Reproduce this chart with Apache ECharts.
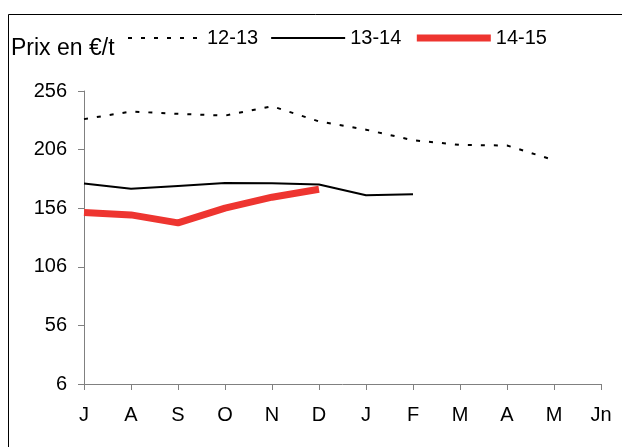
<!DOCTYPE html>
<html>
<head>
<meta charset="utf-8">
<script src="https://cdn.jsdelivr.net/npm/echarts@6/dist/echarts.min.js"></script>
<style>
  html, body { margin: 0; padding: 0; background: #fff; }
  #chart { width: 622px; height: 447px; }
</style>
</head>
<body>
<div id="chart"></div>
<script>
// Months of the marketing year, July to June
const months = ['J', 'A', 'S', 'O', 'N', 'D', 'J', 'F', 'M', 'A', 'M', 'Jn'];
// Price axis ticks (€/t)
const yMin = 6, yMax = 256, yStep = 50;
// Monthly prices per campaign
const s1213 = [232, 238.5, 236.5, 235, 243, 230, 223, 214, 210, 209.5, 197, null];
const s1314 = [177, 172.5, 175, 177.5, 177.3, 176.2, 167, 168, null, null, null, null];
const s1415 = [152.3, 150.3, 143.5, 156, 165.4, 172.2, null, null, null, null, null, null];

const font = '"Liberation Sans", Arial, sans-serif';
const red = '#ee3530';
const chart = echarts.init(document.getElementById('chart'), null, { renderer: 'canvas' });

chart.setOption({
  animation: false,
  backgroundColor: '#fff',
  textStyle: { fontFamily: font },
  legend: {
    top: 23,
    left: 122,
    itemWidth: 74,
    itemHeight: 8,
    itemGap: 12,
    itemStyle: { opacity: 0 },
    textStyle: { fontSize: 20, color: '#000', fontFamily: font },
    data: [
      { name: '12-13', lineStyle: { width: 2, type: [4, 9], color: '#000' } },
      { name: '13-14', lineStyle: { width: 2, color: '#000' } },
      { name: '14-15', lineStyle: { width: 7, color: red } }
    ]
  },
  graphic: [
    { type: 'rect', shape: { x: 8.5, y: 14.5, width: 640, height: 460 },
      style: { fill: 'none', stroke: '#000', lineWidth: 1 }, silent: true },
    { type: 'text', left: 11, top: 37,
      style: { text: 'Prix en €/t', fill: '#000', font: '23px ' + font } }
  ],
  grid: { left: 84, right: 21, top: 91, bottom: 63, containLabel: false },
  xAxis: {
    type: 'category',
    data: months,
    boundaryGap: false,
    axisLine: { lineStyle: { color: '#808080', width: 1 } },
    axisTick: { show: true, length: 6, lineStyle: { color: '#808080' } },
    axisLabel: { fontSize: 20, color: '#000', margin: 21, fontFamily: font, interval: 0 },
    splitLine: { show: false }
  },
  yAxis: {
    type: 'value',
    min: yMin,
    max: yMax,
    interval: yStep,
    axisLine: { show: true, lineStyle: { color: '#808080', width: 1 } },
    axisTick: { show: true, length: 6, lineStyle: { color: '#808080' } },
    axisLabel: { fontSize: 20, color: '#000', margin: 17, fontFamily: font },
    splitLine: { show: false }
  },
  series: [
    {
      name: '12-13', type: 'line', data: s1213, symbol: 'none',
      lineStyle: { color: '#000', width: 2, type: [4, 9] },
      itemStyle: { color: '#000' }
    },
    {
      name: '13-14', type: 'line', data: s1314, symbol: 'none',
      lineStyle: { color: '#000', width: 2 },
      itemStyle: { color: '#000' }
    },
    {
      name: '14-15', type: 'line', data: s1415, symbol: 'none',
      lineStyle: { color: red, width: 7 },
      itemStyle: { color: red }
    }
  ]
});
</script>
</body>
</html>
